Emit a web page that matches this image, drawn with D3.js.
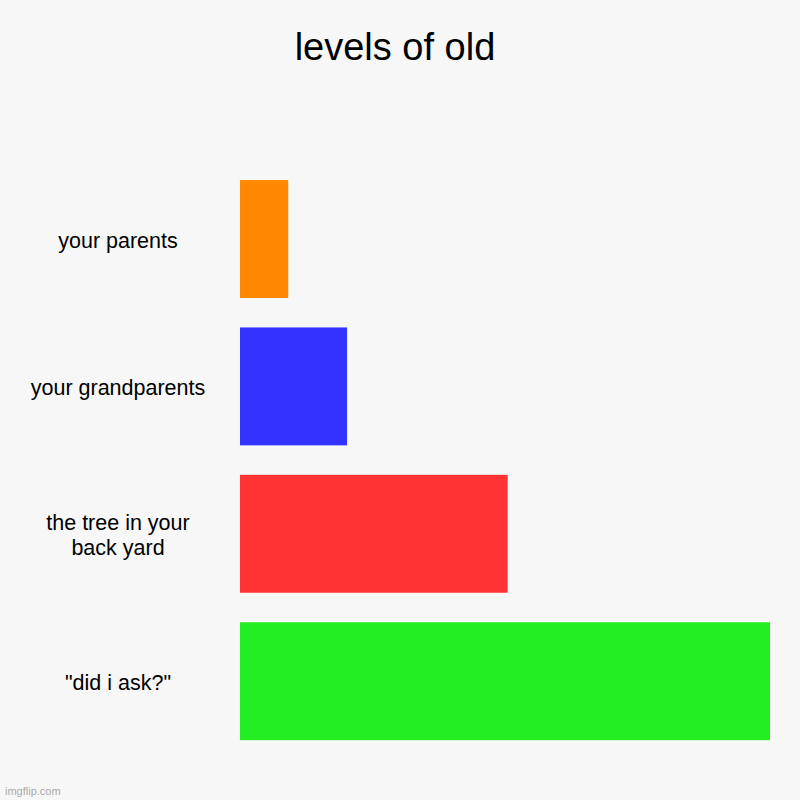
<!DOCTYPE html>
<html><head><meta charset="utf-8">
<script src="https://cdn.jsdelivr.net/npm/d3@7"></script>
<style>html,body{margin:0;padding:0;background:#f7f7f7;}</style>
</head><body>
<script>
const categories = ["your parents", "your grandparents", "the tree in your\nback yard", "\"did i ask?\""];
const values = [9.1, 20.2, 50.5, 100];
const colors = ["#ff8800", "#3333ff", "#ff3333", "#22ee22"];
const title = "levels of old";

const W = 800, H = 800;
const svg = d3.select("body").append("svg").attr("width", W).attr("height", H)
  .style("background", "#f7f7f7").style("display", "block");
svg.append("rect").attr("width", W).attr("height", H).attr("fill", "#f7f7f7");

const x = d3.scaleLinear().domain([0, 100]).range([240, 770]);
const y = d3.scaleBand().domain(categories).range([165.3, 754.9]).paddingInner(0.2).paddingOuter(0.1);

svg.selectAll("rect.bar").data(categories).enter().append("rect")
  .attr("class", "bar")
  .attr("x", x(0))
  .attr("y", d => y(d))
  .attr("width", (d, i) => x(values[i]) - x(0))
  .attr("height", y.bandwidth())
  .attr("fill", (d, i) => colors[i]);

const lab = svg.selectAll("text.lab").data(categories).enter().append("text")
  .attr("class", "lab")
  .attr("text-anchor", "middle")
  .attr("font-family", "Liberation Sans, Arial, sans-serif")
  .attr("font-size", 21.5)
  .attr("fill", "#000");
lab.each(function(d) {
  const lines = d.split("\n");
  const cy = y(d) + y.bandwidth() / 2 + 1;
  const lh = 25;
  const t = d3.select(this);
  lines.forEach((ln, k) => {
    t.append("tspan").attr("x", 118)
      .attr("y", cy + (k - (lines.length - 1) / 2) * lh)
      .attr("dy", "0.35em").text(ln);
  });
});

svg.append("text").attr("x", 395).attr("y", 60).attr("text-anchor", "middle")
  .attr("font-family", "Liberation Sans, Arial, sans-serif").attr("font-size", 38)
  .attr("fill", "#000").text(title);

svg.append("text").attr("x", 5).attr("y", 795)
  .attr("font-family", "Liberation Sans, Arial, sans-serif").attr("font-size", 11)
  .attr("fill", "#aaa").text("imgflip.com");
</script>
</body></html>
